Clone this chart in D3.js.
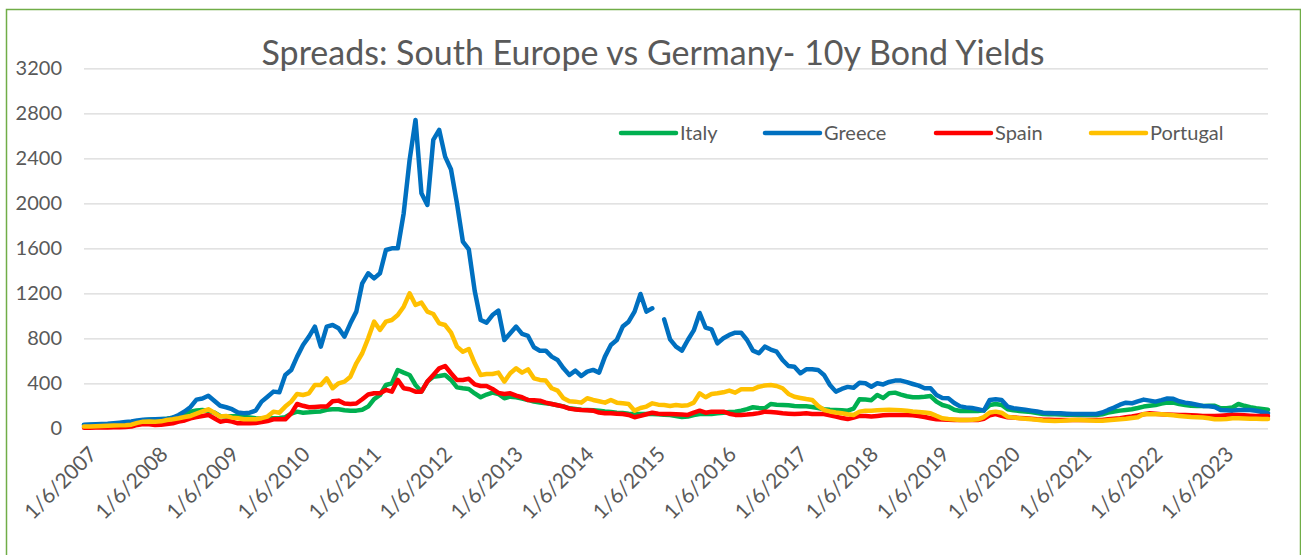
<!DOCTYPE html>
<html>
<head>
<meta charset="utf-8">
<script src="https://cdn.jsdelivr.net/npm/d3@7"></script>
<style>
  body { margin: 0; background: #fff; }
  svg { display: block; font-family: Lato, "Open Sans", sans-serif; }
</style>
</head>
<body>
<div id="chart"></div>
<script>
// Spreads vs Germany (bp), monthly from 1/6/2007
// ==============================
var tickLabels = ["1/6/2007", "1/6/2008", "1/6/2009", "1/6/2010", "1/6/2011", "1/6/2012",
  "1/6/2013", "1/6/2014", "1/6/2015", "1/6/2016", "1/6/2017", "1/6/2018", "1/6/2019",
  "1/6/2020", "1/6/2021", "1/6/2022", "1/6/2023"];
var yTicks = [0, 400, 800, 1200, 1600, 2000, 2400, 2800, 3200];

var italy = [
  28,30,31,33,35,36,38,40,44,58,72,75,
  78,80,85,95,104,125,148,158,163,155,140,110,
  104,108,110,100,95,90,88,89,89,92,98,130,
  148,139,142,148,150,165,169,169,160,157,157,165,
  193,260,296,385,400,518,495,474,385,326,415,459,
  465,474,430,364,356,350,310,276,300,317,305,267,
  281,276,265,252,237,230,222,216,205,195,178,172,
  165,163,160,157,150,145,139,135,130,127,127,127,
  127,124,120,119,110,100,105,118,127,127,127,133,
  139,144,148,157,170,187,180,178,216,210,207,205,
  199,197,195,190,180,169,165,163,160,157,175,258,
  255,250,296,270,311,317,300,285,276,276,280,287,
  237,207,193,165,154,154,154,154,160,207,216,207,
  170,160,154,150,145,135,127,125,124,123,121,120,
  119,118,118,118,125,139,150,157,163,169,180,193,
  200,207,220,228,228,215,207,200,199,199,200,201,
  178,178,185,216,200,187,178,172,165
];
var greece = [
  32,34,36,38,40,45,50,55,60,70,75,78,
  80,82,83,95,118,150,190,255,265,290,245,200,
  187,170,140,133,139,157,237,281,326,320,474,518,
  637,740,815,904,726,904,918,889,815,933,1037,1289,
  1378,1333,1378,1585,1600,1600,1911,2385,2741,2089,1985,2563,
  2652,2415,2300,2000,1660,1590,1220,963,939,1007,1046,785,
  844,904,839,821,720,690,690,637,607,533,474,513,
  465,504,519,495,637,740,785,904,948,1037,1194,1037,
  1067,null,969,791,726,690,785,870,1025,895,880,755,
  800,830,850,850,785,690,667,726,700,681,607,554,
  548,489,524,524,519,474,385,326,350,368,360,405,
  400,370,400,390,412,424,424,410,394,379,356,356,
  296,270,267,225,195,186,180,170,157,252,258,252,
  193,178,172,165,157,150,139,136,133,133,130,128,
  127,127,127,127,140,163,184,210,228,222,240,255,
  246,237,250,265,262,240,228,220,210,199,196,190,
  163,160,157,163,163,163,156,145,135
];
var spain = [
  5,5,6,7,8,9,10,12,15,30,39,35,
  30,32,39,45,59,70,89,100,110,119,89,59,
  68,60,44,44,44,48,55,65,80,80,80,133,
  216,200,187,190,193,193,240,246,220,216,220,258,
  300,311,311,341,326,430,356,347,326,326,415,474,
  533,554,489,430,430,440,390,376,376,350,315,305,
  311,290,276,252,250,246,228,216,205,193,175,168,
  163,160,157,140,133,133,130,127,119,98,110,125,
  139,130,127,127,125,122,119,140,157,139,148,148,
  148,130,119,119,122,127,135,148,145,140,133,130,
  127,130,133,127,127,127,115,104,92,82,95,110,
  110,105,110,115,118,118,118,118,115,110,100,90,
  80,78,75,74,74,74,74,74,85,115,127,110,
  98,95,92,89,85,80,77,75,74,74,74,74,
  74,74,74,74,74,80,85,90,98,105,115,125,
  133,130,125,122,120,118,118,115,113,110,110,110,
  112,115,118,118,115,112,110,110,110
];
var portugal = [
  15,17,19,21,22,24,26,28,32,48,59,60,
  59,62,74,80,89,100,110,130,150,169,139,104,
  110,95,89,80,80,80,90,104,148,139,193,237,
  305,296,311,385,385,444,356,400,415,459,578,667,
  800,948,874,948,963,1007,1081,1200,1096,1117,1037,1016,
  933,918,850,726,680,705,578,474,483,483,495,415,
  489,533,495,524,444,430,424,356,335,267,240,237,
  228,267,252,240,228,252,228,222,216,157,180,193,
  222,210,207,199,207,201,205,228,311,276,305,311,
  320,335,317,347,347,347,370,380,385,376,356,305,
  281,270,260,252,199,163,150,140,133,125,119,148,
  157,155,160,163,165,163,160,157,150,145,140,133,
  110,89,82,78,74,74,76,80,100,140,148,139,
  104,95,90,85,80,75,70,67,65,66,70,74,
  74,72,70,68,68,72,76,80,85,92,98,127,
  125,124,124,120,115,110,105,100,98,95,90,80,
  80,83,89,89,87,85,84,83,83
];

// Month categories 1/6/2007 ... (one per value)
var categories = [];
for (var k = 0; k < italy.length; k++) {
  var m = 5 + k;
  categories.push("1/" + (m % 12 + 1) + "/" + (2007 + Math.floor(m / 12)));
}

var series = [
  { name: "Italy", values: italy, color: "#00B050" },
  { name: "Greece", values: greece, color: "#0070C0" },
  { name: "Spain", values: spain, color: "#FF0000" },
  { name: "Portugal", values: portugal, color: "#FFC000" }
];

// SVG area
// ==============================
var svgWidth = 1301;
var svgHeight = 555;
var margin = { top: 68.3, right: 33, bottom: 126.7, left: 84 };
var width = svgWidth - margin.left - margin.right;
var height = svgHeight - margin.top - margin.bottom;

var svg = d3.select("#chart")
  .append("svg")
  .attr("width", svgWidth)
  .attr("height", svgHeight);

// chart border
svg.append("rect")
  .attr("x", 6.5)
  .attr("y", 9.5)
  .attr("width", 1294)
  .attr("height", 560)
  .attr("fill", "none")
  .attr("stroke", "#70AD47")
  .attr("stroke-width", 1.5);

var chartGroup = svg.append("g")
  .attr("transform", `translate(${margin.left}, ${margin.top})`);

// Scales
var xScale = d3.scalePoint()
  .domain(categories)
  .range([0, width]);

var yScale = d3.scaleLinear()
  .domain([0, 3200])
  .range([height, 0]);

// Gridlines + y labels
var yAxis = d3.axisLeft(yScale)
  .tickValues(yTicks)
  .tickSize(-width)
  .tickPadding(22)
  .tickFormat(d3.format("d"));

var yAxisG = chartGroup.append("g").call(yAxis);
yAxisG.select(".domain").remove();
yAxisG.selectAll(".tick line")
  .attr("stroke", "#d9d9d9")
  .attr("stroke-width", 1.3);
yAxisG.selectAll(".tick text")
  .attr("fill", "#595959")
  .style("font-size", "20px")
  .style("font-family", "Lato, 'Open Sans', sans-serif");

// x labels
var xAxisG = chartGroup.append("g")
  .attr("transform", `translate(0, ${height})`);

xAxisG.selectAll("text")
  .data(tickLabels)
  .enter()
  .append("text")
  .attr("transform", d => `translate(${xScale(d) + 9}, 22) rotate(-45)`)
  .attr("text-anchor", "end")
  .attr("dy", "0.35em")
  .attr("fill", "#595959")
  .style("font-size", "21px")
  .text(d => d);

// Lines
var line = d3.line()
  .defined(d => d != null)
  .x((d, i) => xScale(categories[i]))
  .y(d => yScale(d));

chartGroup.selectAll(".series")
  .data(series)
  .enter()
  .append("path")
  .attr("class", "series")
  .attr("fill", "none")
  .attr("stroke", d => d.color)
  .attr("stroke-width", 4.5)
  .attr("stroke-linejoin", "round")
  .attr("stroke-linecap", "round")
  .attr("d", d => line(d.values));

// Title
var title = svg.append("text")
  .attr("x", 653)
  .attr("y", 65)
  .attr("text-anchor", "middle")
  .attr("fill", "#595959")
  .style("font-size", "34px")
  .text("Spreads: South Europe vs Germany- 10y Bond Yields");

var tw = title.node().getComputedTextLength();
if (tw > 788) title.style("font-size", (34 * 788 / tw) + "px");

// Legend
var legendX = [621, 765, 936, 1091];
var legend = svg.selectAll(".legend")
  .data(series)
  .enter()
  .append("g")
  .attr("class", "legend")
  .attr("transform", (d, i) => `translate(${legendX[i]}, 133)`);

legend.append("line")
  .attr("x1", 0)
  .attr("x2", 55)
  .attr("stroke", d => d.color)
  .attr("stroke-width", 4.5)
  .attr("stroke-linecap", "round");

legend.append("text")
  .attr("x", 59)
  .attr("dy", "0.35em")
  .attr("fill", "#595959")
  .style("font-size", "20px")
  .text(d => d.name);
</script>
</body>
</html>
